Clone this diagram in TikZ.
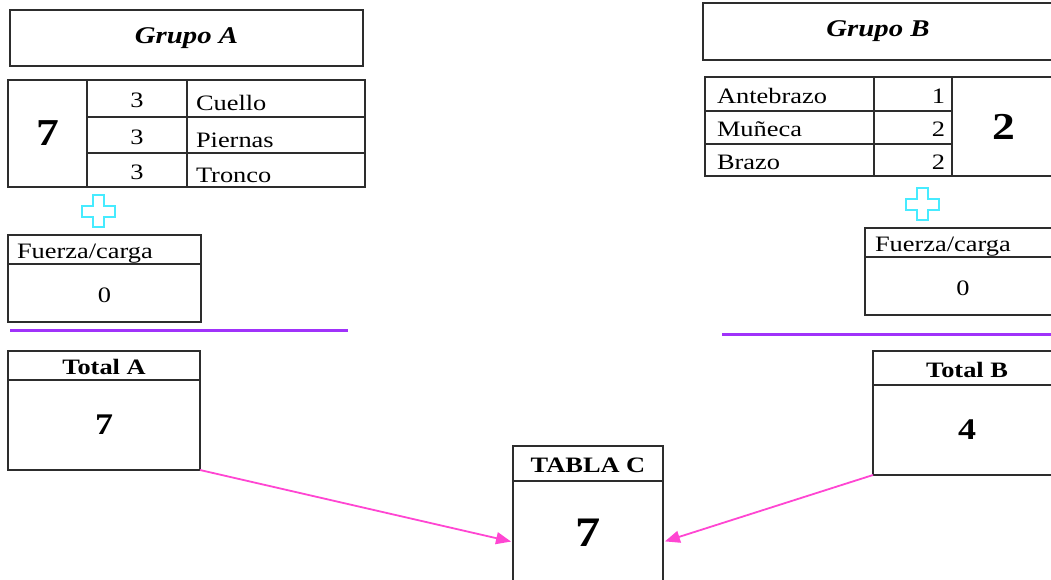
\documentclass[tikz,border=0pt]{standalone}
\usepackage{fontspec}
\setmainfont{Liberation Serif}[FakeStretch=1.2]
\usepackage{xcolor}
\usepackage{tikz}
\usetikzlibrary{arrows.meta,positioning}

\definecolor{boxline}{RGB}{45,45,45}
\definecolor{pluscyan}{RGB}{70,235,255}
\definecolor{sepviolet}{RGB}{160,50,250}
\definecolor{linkpink}{RGB}{255,70,210}

\begin{document}
\begin{tikzpicture}[x=1pt, y=-1pt, >=Stealth, font=\fontsize{22}{26}\selectfont]
\tikzset{
  base/.style={draw=boxline, line width=1.7pt, inner sep=0pt, outer sep=0pt, anchor=north west},
  title/.style={base, font=\fontsize{24}{28}\selectfont\bfseries\itshape},
  cell/.style={base, text height=18pt, text depth=0pt},
  leftcell/.style={cell, align=left},
  rightcell/.style={cell, align=right},
  header/.style={cell, font=\fontsize{22}{26}\selectfont\bfseries},
  bignum/.style={base, font=\fontsize{38}{44}\selectfont\bfseries},
  total/.style={base, font=\fontsize{30}{36}\selectfont\bfseries},
  sepline/.style={draw=sepviolet, line width=3pt},
  link/.style={-{Triangle[length=15pt,width=12pt]}, draw=linkpink, line width=1.8pt, shorten >=2pt},
  crosssign/.pic={\draw[pluscyan, line width=2pt] (-5.5,-16) -- (5.5,-16) -- (5.5,-5.5) -- (16.5,-5.5) -- (16.5,5.5) -- (5.5,5.5) -- (5.5,16) -- (-5.5,16) -- (-5.5,5.5) -- (-16.5,5.5) -- (-16.5,-5.5) -- (-5.5,-5.5) -- cycle;},
}
\useasboundingbox (0,0) rectangle (1051,579);
\clip (0,0) rectangle (1051,579);

% Group A
\node (grpA) [title, minimum width=353pt, minimum height=56pt] at (10,10) {Grupo A};

\node (bigA) [bignum, minimum width=79pt, minimum height=107pt] at (8,80) {7};
\node (nA1) [cell, minimum width=100pt, minimum height=37pt] at (87,80) {3};
\node (nA2) [cell, minimum width=100pt, minimum height=36pt] at (nA1.south west) {3};
\node (nA3) [cell, minimum width=100pt, minimum height=34pt] at (nA2.south west) {3};
\node (pA1) [leftcell, text height=24pt, text width=160pt, inner xsep=9pt, minimum height=37pt] at (nA1.north east) {Cuello};
\node (pA2) [leftcell, text height=24pt, text width=160pt, inner xsep=9pt, minimum height=36pt] at (pA1.south west) {Piernas};
\node (pA3) [leftcell, text height=24pt, text width=160pt, inner xsep=9pt, minimum height=34pt] at (pA2.south west) {Tronco};

\pic at (98.5,211) {crosssign};

\node (fzA) [leftcell, text width=175pt, inner xsep=9pt, minimum height=29pt] at (8,235) {Fuerza/carga};
\node (fzAval) [cell, minimum width=193pt, minimum height=58pt] at (fzA.south west) {0};

\draw[sepline] (10,330) -- (348,330);

\node (totA) [header, minimum width=192pt, minimum height=29pt] at (8,351) {Total A};
\node (totAval) [total, minimum width=192pt, minimum height=90pt] at (totA.south west) {7};

% Group B
\node (grpB) [title, minimum width=350pt, minimum height=57pt] at (703,3) {Grupo B};

\node (pB1) [leftcell, text width=145pt, inner xsep=12pt, minimum height=34pt] at (705,77) {Antebrazo};
\node (pB2) [leftcell, text width=145pt, inner xsep=12pt, minimum height=33pt] at (pB1.south west) {Muñeca};
\node (pB3) [leftcell, text width=145pt, inner xsep=12pt, minimum height=32pt] at (pB2.south west) {Brazo};
\node (nB1) [rightcell, text width=64pt, inner xsep=7pt, minimum height=34pt] at (pB1.north east) {1};
\node (nB2) [rightcell, text width=64pt, inner xsep=7pt, minimum height=33pt] at (nB1.south west) {2};
\node (nB3) [rightcell, text width=64pt, inner xsep=7pt, minimum height=32pt] at (nB2.south west) {2};
\node (bigB) [bignum, minimum width=104pt, minimum height=99pt] at (nB1.north east) {2};

\pic at (922,204) {crosssign};

\node (fzB) [leftcell, text width=176pt, inner xsep=10pt, minimum height=29pt] at (865,228) {Fuerza/carga};
\node (fzBval) [cell, minimum width=196pt, minimum height=58pt] at (fzB.south west) {0};

\draw[sepline] (722,334) -- (1056,334);

\node (totB) [header, minimum width=188pt, minimum height=34pt] at (873,351) {Total B};
\node (totBval) [total, minimum width=188pt, minimum height=90pt] at (totB.south west) {4};

% Table C
\node (tabC) [header, minimum width=150pt, minimum height=35pt] at (513,446) {TABLA C};
\node (tabCval) [base, font=\fontsize{42}{50}\selectfont\bfseries, text depth=18pt, minimum width=150pt, minimum height=122pt] at (tabC.south west) {7};

\draw[link] (totAval.south east) -- (tabCval.west);
\draw[link] (totBval.south west) -- (tabCval.east);

\end{tikzpicture}
\end{document}
